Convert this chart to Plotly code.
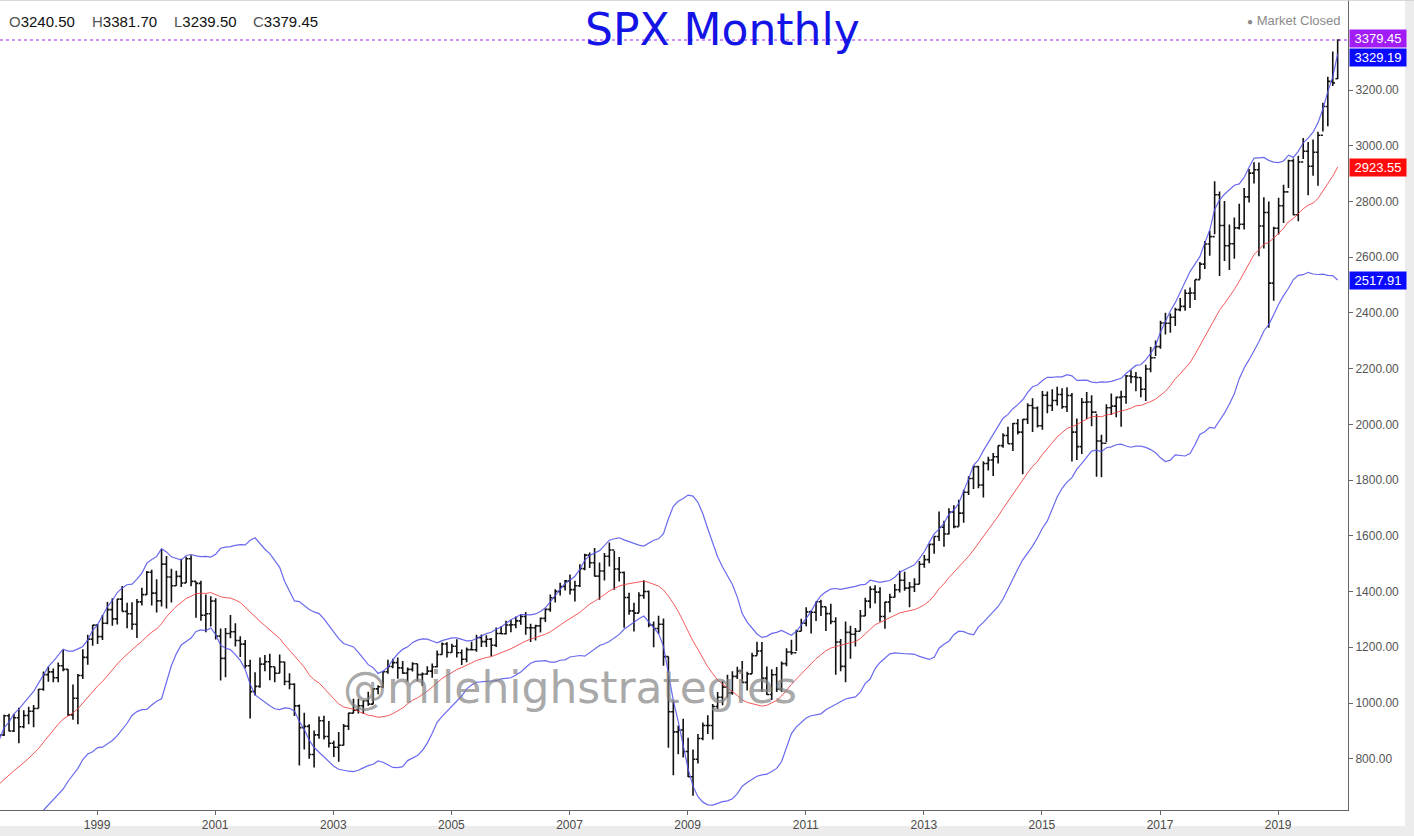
import numpy as np
import pandas as pd
import plotly.graph_objects as go

# ---------------- DATA ----------------
# Monthly closes before the first visible bar (Nov 1995 - May 1997), used for the 20-month bands
closes_pre = [605.37, 615.93,
              636.02, 640.43, 645.50, 654.17, 669.12, 670.63, 639.95, 651.99, 687.33, 705.27, 757.02, 740.74,
              786.16, 790.82, 757.12, 801.34, 848.28]

# Visible bars: Jun 1997 - Feb 2020
closes = {
    1997: [885.14, 954.31, 899.47, 947.28, 914.62, 955.40, 970.43],
    1998: [980.28, 1049.34, 1101.75, 1111.75, 1090.82, 1133.84, 1120.67, 957.28, 1017.01, 1098.67, 1163.63, 1229.23],
    1999: [1279.64, 1238.33, 1286.37, 1335.18, 1301.84, 1372.71, 1328.72, 1320.41, 1282.71, 1362.93, 1388.91, 1469.25],
    2000: [1394.46, 1366.42, 1498.58, 1452.43, 1420.60, 1454.60, 1430.83, 1517.68, 1436.51, 1429.40, 1314.95, 1320.28],
    2001: [1366.01, 1239.94, 1160.33, 1249.46, 1255.82, 1224.42, 1211.23, 1133.58, 1040.94, 1059.78, 1139.45, 1148.08],
    2002: [1130.20, 1106.73, 1147.39, 1076.92, 1067.14, 989.82, 911.62, 916.07, 815.28, 885.76, 936.31, 879.82],
    2003: [855.70, 841.15, 848.18, 916.92, 963.59, 974.50, 990.31, 1008.01, 995.97, 1050.71, 1058.20, 1111.92],
    2004: [1131.13, 1144.94, 1126.21, 1107.30, 1120.68, 1140.84, 1101.72, 1104.24, 1114.58, 1130.20, 1173.82, 1211.92],
    2005: [1181.27, 1203.60, 1180.59, 1156.85, 1191.50, 1191.33, 1234.18, 1220.33, 1228.81, 1207.01, 1249.48, 1248.29],
    2006: [1280.08, 1280.66, 1294.83, 1310.61, 1270.09, 1270.20, 1276.66, 1303.82, 1335.85, 1377.94, 1400.63, 1418.30],
    2007: [1438.24, 1406.82, 1420.86, 1482.37, 1530.62, 1503.35, 1455.27, 1473.99, 1526.75, 1549.38, 1481.14, 1468.36],
    2008: [1378.55, 1330.63, 1322.70, 1385.59, 1400.38, 1280.00, 1267.38, 1282.83, 1166.36, 968.75, 896.24, 903.25],
    2009: [825.88, 735.09, 797.87, 872.81, 919.14, 919.32, 987.48, 1020.62, 1057.08, 1036.19, 1095.63, 1115.10],
    2010: [1073.87, 1104.49, 1169.43, 1186.69, 1089.41, 1030.71, 1101.60, 1049.33, 1141.20, 1183.26, 1180.55, 1257.64],
    2011: [1286.12, 1327.22, 1325.83, 1363.61, 1345.20, 1320.64, 1292.28, 1218.89, 1131.42, 1253.30, 1246.96, 1257.60],
    2012: [1312.41, 1365.68, 1408.47, 1397.91, 1310.33, 1362.16, 1379.32, 1406.58, 1440.67, 1412.16, 1416.18, 1426.19],
    2013: [1498.11, 1514.68, 1569.19, 1597.57, 1630.74, 1606.28, 1685.73, 1632.97, 1681.55, 1756.54, 1805.81, 1848.36],
    2014: [1782.59, 1859.45, 1872.34, 1883.95, 1923.57, 1960.23, 1930.67, 2003.37, 1972.29, 2018.05, 2067.56, 2058.90],
    2015: [1994.99, 2104.50, 2067.89, 2085.51, 2107.39, 2063.11, 2103.84, 1972.18, 1920.03, 2079.36, 2080.41, 2043.94],
    2016: [1940.24, 1932.23, 2059.74, 2065.30, 2096.95, 2098.86, 2173.60, 2170.95, 2168.27, 2126.15, 2198.81, 2238.83],
    2017: [2278.87, 2363.64, 2362.72, 2384.20, 2411.80, 2423.41, 2470.30, 2471.65, 2519.36, 2575.26, 2647.58, 2673.61],
    2018: [2823.81, 2713.83, 2640.87, 2648.05, 2705.27, 2718.37, 2816.29, 2901.52, 2913.98, 2711.74, 2760.17, 2506.85],
    2019: [2704.10, 2784.49, 2834.40, 2945.83, 2752.06, 2941.76, 2980.38, 2926.46, 2976.74, 3037.56, 3140.98, 3230.78],
    2020: [3225.52, 3379.45],
}
highs = {
    1997: [898.70, 957.73, 961.63, 960.46, 983.12, 973.72, 986.25],
    1998: [992.65, 1050.02, 1113.07, 1130.52, 1123.95, 1145.15, 1190.58, 1121.35, 1066.11, 1103.78, 1192.97, 1244.93],
    1999: [1280.12, 1283.75, 1316.18, 1362.80, 1375.98, 1374.00, 1420.33, 1360.00, 1361.30, 1373.50, 1414.00, 1473.41],
    2000: [1478.00, 1444.55, 1552.87, 1527.19, 1481.51, 1474.64, 1517.32, 1525.21, 1530.09, 1436.28, 1438.46, 1389.06],
    2001: [1383.37, 1376.38, 1267.42, 1269.30, 1315.93, 1286.62, 1239.78, 1226.27, 1155.40, 1110.61, 1163.38, 1172.51],
    2002: [1176.97, 1130.20, 1173.94, 1147.84, 1106.59, 1070.89, 994.46, 965.00, 924.02, 900.96, 951.57, 954.28],
    2003: [935.05, 864.64, 895.90, 924.24, 965.38, 1015.33, 1015.41, 1011.01, 1040.29, 1053.79, 1063.65, 1112.56],
    2004: [1155.38, 1158.98, 1163.23, 1150.57, 1127.74, 1146.18, 1140.84, 1109.68, 1131.54, 1142.05, 1188.46, 1217.33],
    2005: [1217.80, 1212.44, 1229.11, 1191.88, 1199.56, 1219.59, 1245.15, 1245.86, 1243.13, 1233.34, 1270.64, 1275.80],
    2006: [1294.90, 1297.57, 1310.88, 1318.16, 1326.70, 1284.72, 1280.42, 1307.11, 1340.28, 1389.45, 1407.89, 1431.81],
    2007: [1441.61, 1461.57, 1438.89, 1498.02, 1535.56, 1540.56, 1555.90, 1503.89, 1538.74, 1576.09, 1545.79, 1523.57],
    2008: [1471.77, 1396.02, 1359.68, 1397.84, 1440.24, 1404.05, 1292.17, 1313.15, 1303.04, 1167.03, 1007.51, 918.85],
    2009: [943.85, 875.01, 832.98, 888.70, 930.17, 956.23, 996.68, 1039.47, 1080.15, 1101.36, 1113.69, 1130.38],
    2010: [1150.45, 1112.42, 1180.16, 1219.80, 1218.98, 1131.23, 1120.95, 1129.24, 1148.90, 1196.14, 1227.08, 1262.60],
    2011: [1302.67, 1344.07, 1332.28, 1364.56, 1370.58, 1345.20, 1356.48, 1307.38, 1229.29, 1292.66, 1277.55, 1269.37],
    2012: [1333.47, 1378.04, 1419.15, 1422.38, 1415.32, 1363.46, 1391.74, 1426.68, 1474.51, 1470.96, 1434.27, 1448.00],
    2013: [1509.94, 1530.94, 1570.28, 1597.35, 1687.18, 1654.19, 1698.78, 1709.67, 1729.86, 1765.10, 1813.55, 1849.44],
    2014: [1850.84, 1867.92, 1883.97, 1897.28, 1924.03, 1968.17, 1991.39, 2005.04, 2019.26, 2018.19, 2075.76, 2093.55],
    2015: [2064.43, 2119.59, 2117.52, 2125.92, 2134.72, 2129.87, 2132.82, 2112.66, 2020.86, 2094.32, 2116.48, 2104.27],
    2016: [2038.20, 1962.96, 2072.21, 2111.05, 2099.73, 2120.55, 2177.09, 2193.81, 2187.87, 2169.60, 2214.10, 2277.53],
    2017: [2300.99, 2371.54, 2400.98, 2398.16, 2418.71, 2453.82, 2484.04, 2490.87, 2519.44, 2582.98, 2657.74, 2694.97],
    2018: [2872.87, 2835.96, 2801.90, 2717.49, 2742.24, 2791.47, 2848.03, 2916.50, 2940.91, 2939.86, 2815.15, 2800.18],
    2019: [2708.95, 2813.49, 2860.31, 2949.52, 2954.13, 2964.15, 3027.98, 3013.59, 3021.99, 3050.10, 3154.26, 3247.93],
    2020: [3337.77, 3381.70],
}
lows = {
    1997: [836.36, 882.00, 898.00, 896.00, 855.27, 909.00, 924.00],
    1998: [912.83, 980.28, 1044.40, 1076.70, 1074.67, 1074.17, 1114.30, 953.00, 939.98, 923.32, 1086.00, 1136.89],
    1999: [1205.46, 1211.89, 1226.20, 1282.56, 1277.34, 1281.41, 1328.72, 1268.37, 1263.10, 1233.70, 1350.00, 1387.38],
    2000: [1350.14, 1325.07, 1346.62, 1339.40, 1361.09, 1420.60, 1416.54, 1430.83, 1419.44, 1305.79, 1294.90, 1254.07],
    2001: [1274.62, 1228.33, 1081.19, 1091.99, 1232.00, 1203.03, 1165.54, 1124.87, 944.75, 1026.76, 1054.31, 1114.00],
    2002: [1081.66, 1074.36, 1106.73, 1063.46, 1048.96, 952.92, 775.68, 833.44, 800.20, 768.63, 872.05, 869.45],
    2003: [840.34, 806.29, 788.90, 847.85, 902.83, 963.59, 962.10, 960.84, 990.36, 995.97, 1031.20, 1053.41],
    2004: [1105.08, 1124.44, 1087.16, 1105.30, 1076.32, 1113.30, 1078.78, 1060.72, 1101.29, 1090.19, 1127.60, 1173.37],
    2005: [1163.75, 1180.59, 1163.69, 1136.15, 1146.18, 1188.30, 1183.55, 1201.07, 1201.07, 1168.20, 1201.07, 1246.59],
    2006: [1245.74, 1253.61, 1268.42, 1280.74, 1245.34, 1219.29, 1224.54, 1253.40, 1290.93, 1327.10, 1360.98, 1385.93],
    2007: [1403.97, 1389.42, 1363.98, 1416.37, 1476.70, 1484.18, 1454.25, 1370.60, 1439.29, 1489.56, 1406.10, 1435.65],
    2008: [1270.05, 1316.75, 1256.98, 1324.35, 1373.72, 1272.00, 1200.44, 1247.45, 1133.50, 839.80, 741.02, 815.69],
    2009: [804.47, 734.52, 666.79, 783.32, 866.10, 888.86, 869.32, 978.51, 991.97, 1020.18, 1029.38, 1085.89],
    2010: [1071.59, 1044.50, 1105.24, 1170.69, 1040.78, 1028.33, 1010.91, 1039.70, 1039.70, 1131.87, 1173.00, 1186.60],
    2011: [1257.62, 1275.10, 1249.05, 1294.70, 1311.80, 1258.07, 1282.86, 1101.54, 1114.22, 1074.77, 1158.66, 1202.37],
    2012: [1258.86, 1312.41, 1340.03, 1357.38, 1291.98, 1266.74, 1325.41, 1378.72, 1396.56, 1403.28, 1343.35, 1398.11],
    2013: [1426.19, 1485.01, 1501.48, 1536.03, 1581.28, 1560.33, 1604.57, 1627.47, 1633.41, 1646.47, 1746.20, 1767.99],
    2014: [1770.45, 1737.92, 1834.44, 1814.36, 1859.79, 1915.98, 1930.67, 1904.78, 1964.04, 1820.66, 2001.01, 1972.56],
    2015: [1988.44, 1980.90, 2039.69, 2048.38, 2067.93, 2056.32, 2044.02, 1867.01, 1871.91, 1893.70, 2019.39, 1993.26],
    2016: [1812.29, 1810.10, 1937.09, 2033.80, 2025.91, 1991.68, 2074.02, 2147.58, 2119.12, 2097.06, 2083.79, 2187.44],
    2017: [2245.13, 2271.65, 2322.25, 2328.95, 2352.72, 2405.70, 2407.70, 2417.35, 2446.55, 2520.40, 2557.45, 2605.52],
    2018: [2682.36, 2532.69, 2585.89, 2553.80, 2594.62, 2698.95, 2698.95, 2796.34, 2864.12, 2603.54, 2631.09, 2346.58],
    2019: [2443.96, 2681.83, 2722.27, 2848.63, 2750.52, 2728.81, 2952.22, 2822.12, 2891.85, 2855.94, 3050.72, 3070.33],
    2020: [3214.64, 3239.50],
}
first_open = 848.28
last_open = 3240.50

year_ticks = [1999, 2001, 2003, 2005, 2007, 2009, 2011, 2013, 2015, 2017, 2019]
y_ticks = [800, 1000, 1200, 1400, 1600, 1800, 2000, 2200, 2400, 2600, 2800, 3000, 3200]

# ---------------- BUILD ----------------
close_v = [v for y in sorted(closes) for v in closes[y]]
high_v = [v for y in sorted(highs) for v in highs[y]]
low_v = [v for y in sorted(lows) for v in lows[y]]
open_v = [first_open] + close_v[:-1]
open_v[-1] = last_open
n = len(close_v)
months = pd.period_range("1997-06", periods=n, freq="M")
idx = np.arange(n)

allc = pd.Series(closes_pre + close_v)
mid = allc.rolling(20).mean()
sd = allc.rolling(20).std(ddof=0)
upper = (mid + 2 * sd).values[-n:]
lower = (mid - 2 * sd).values[-n:]
mid = mid.values[-n:]

def month_index(year, month):
    return (year - 1997) * 12 + (month - 6)

tickvals = [month_index(y, 1) + 0.9 for y in year_ticks]

fig = go.Figure()
fig.add_trace(go.Scatter(x=idx, y=upper, mode="lines", line=dict(color="rgba(80,80,235,0.85)", width=1.2),
                         hoverinfo="skip", showlegend=False))
fig.add_trace(go.Scatter(x=idx, y=lower, mode="lines", line=dict(color="rgba(80,80,235,0.85)", width=1.2),
                         hoverinfo="skip", showlegend=False))
fig.add_trace(go.Scatter(x=idx, y=mid, mode="lines", line=dict(color="rgba(240,60,60,0.85)", width=1.0),
                         hoverinfo="skip", showlegend=False))
fig.add_trace(go.Ohlc(x=idx, open=open_v, high=high_v, low=low_v, close=close_v,
                      increasing=dict(line=dict(color="#111111", width=1.6)),
                      decreasing=dict(line=dict(color="#111111", width=1.6)),
                      tickwidth=0.45, showlegend=False,
                      text=[str(m) for m in months], hoverinfo="text+y"))

W, H = 1414, 836
L, R, T, B = 0, 66, 0, 26
pw, ph = W - L - R, H - T - B

def px_x(p):
    return p / pw

def px_y(p):
    return 1 - p / ph

fig.update_layout(
    width=W, height=H,
    margin=dict(l=L, r=R, t=T, b=B),
    paper_bgcolor="white", plot_bgcolor="white",
    showlegend=False,
    font=dict(family="Liberation Sans, Arial, sans-serif", color="#555555"),
    xaxis=dict(range=[0.17, 274.1], rangeslider=dict(visible=False), showgrid=False, zeroline=False,
               tickmode="array", tickvals=tickvals, ticktext=[str(y) for y in year_ticks],
               ticks="outside", ticklen=4, tickcolor="#666666", showline=True, linecolor="#666666", linewidth=1,
               tickfont=dict(size=12, color="#4a4a4a", family="Liberation Sans, Arial, sans-serif")),
    yaxis=dict(range=[616, 3523], side="right", showgrid=False, zeroline=False,
               tickmode="array", tickvals=y_ticks, ticktext=[f"{v:.2f}" for v in y_ticks],
               ticks="outside", ticklen=4, tickcolor="#666666", showline=True, linecolor="#666666", linewidth=1,
               tickfont=dict(size=12, color="#555555", family="Liberation Sans, Arial, sans-serif")),
)

shapes = [
    # close price line
    dict(type="line", xref="paper", yref="y", x0=0, x1=1, y0=close_v[-1], y1=close_v[-1],
         line=dict(color="#a020f0", width=1, dash="dot"), layer="above"),
    # top border
    dict(type="line", xref="paper", yref="paper", x0=0, x1=px_x(1414), y0=1, y1=1,
         line=dict(color="#cccccc", width=1.5)),
    # bottom grey strip
    dict(type="rect", xref="paper", yref="paper", x0=-0.01, x1=px_x(1420), y0=px_y(826), y1=px_y(840),
         fillcolor="#ececec", line=dict(width=0), layer="below"),
    # right grey strip
    dict(type="rect", xref="paper", yref="paper", x0=px_x(1405), x1=px_x(1420), y0=px_y(840), y1=1.01,
         fillcolor="#ececec", line=dict(width=0), layer="below"),
]
fig.update_layout(shapes=shapes)

ann = []
# title
ann.append(dict(text="SPX Monthly", xref="paper", yref="paper", x=px_x(722), y=px_y(30),
                xanchor="center", yanchor="middle", showarrow=False,
                font=dict(family="DejaVu Sans, Verdana, sans-serif", size=44, color="#1414e6")))
# watermark
ann.append(dict(text="@milehighstrategies", xref="paper", yref="paper", x=px_x(570), y=px_y(687),
                xanchor="center", yanchor="middle", showarrow=False,
                font=dict(family="DejaVu Sans, Verdana, sans-serif", size=44, color="rgba(130,130,130,0.7)")))
# OHLC header
hdr = [("O", open_v[-1], 7), ("H", high_v[-1], 90), ("L", low_v[-1], 172), ("C", close_v[-1], 251)]
for lab, val, xp in hdr:
    ann.append(dict(text=f"<span style='color:#555555'>{lab}</span>{val:.2f}", xref="paper", yref="paper",
                    x=px_x(xp), y=px_y(22), xanchor="left", yanchor="middle", showarrow=False,
                    font=dict(family="Liberation Sans, Arial, sans-serif", size=15, color="#111111")))
# market closed
ann.append(dict(text="<span style='font-size:10px'>●</span> Market Closed", xref="paper", yref="paper",
                x=px_x(1342), y=px_y(21),
                xanchor="right", yanchor="middle", showarrow=False,
                font=dict(family="Liberation Sans, Arial, sans-serif", size=13, color="#8a8a8a")))
# price labels on the axis
price_labels = [
    (close_v[-1], "#a21cf5", 1.5),
    (upper[-1], "#0a0aff", -3.5),
    (mid[-1], "#ff0a0a", 0),
    (lower[-1], "#0a0aff", 0),
]
for val, col, ys in price_labels:
    ann.append(dict(text=f"{val:.2f}", xref="paper", yref="y", x=1, y=val, xshift=1, yshift=ys,
                    xanchor="left", yanchor="middle", showarrow=False, bgcolor=col, width=52, height=13,
                    borderpad=2, align="center",
                    font=dict(family="Liberation Sans, Arial, sans-serif", size=13, color="white")))
fig.update_layout(annotations=ann)

fig.write_html("out.html")
